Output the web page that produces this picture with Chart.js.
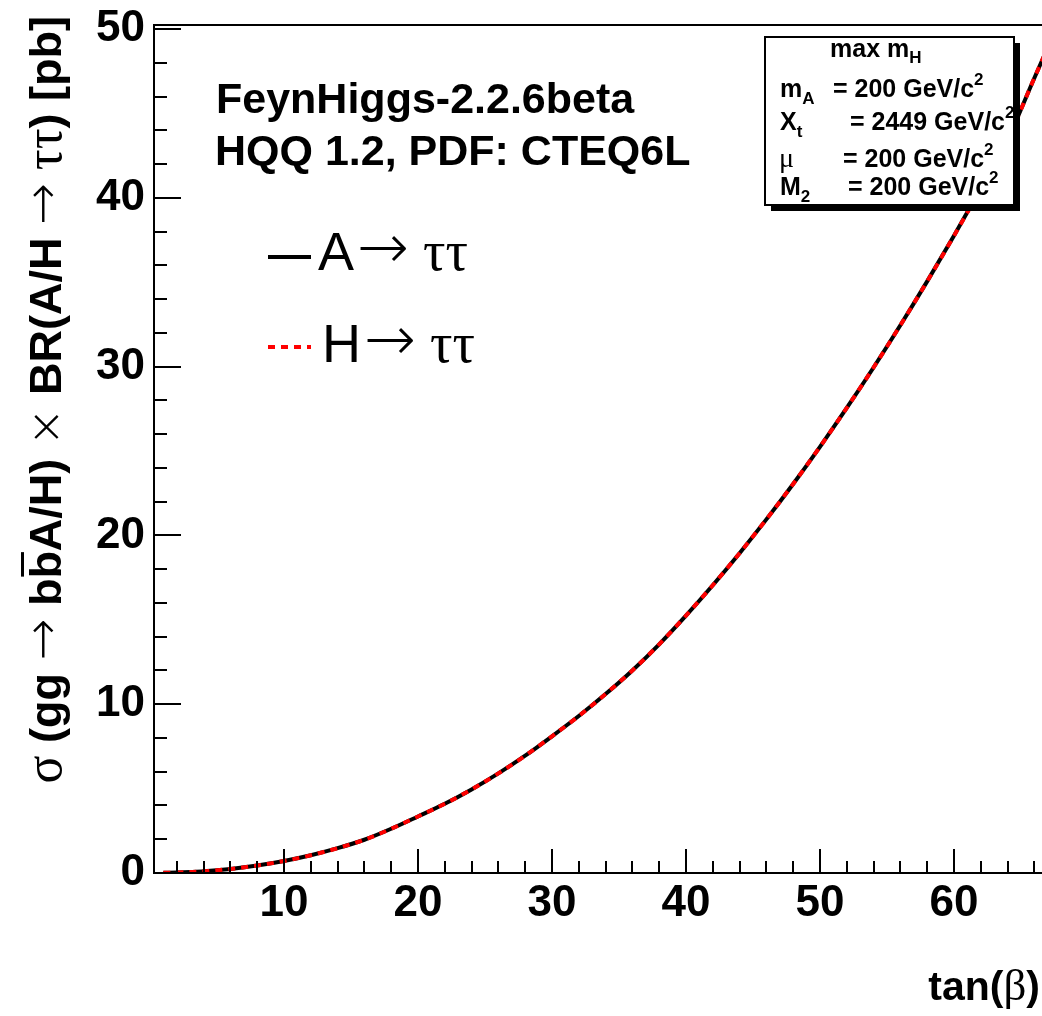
<!DOCTYPE html>
<html>
<head>
<meta charset="utf-8">
<script src="https://cdn.jsdelivr.net/npm/chart.js@4.4.1/dist/chart.umd.min.js"></script>
<style>
  html, body { margin: 0; padding: 0; background: #fff; overflow: hidden; }
  canvas { display: block; }
</style>
</head>
<body>
<canvas id="xsecChart" width="1070" height="1016"></canvas>
<script>
// tan(beta) sampling points and cross sections [pb]
const tanBeta = [1, 2, 3, 4, 6, 8, 10, 12, 14, 16, 18, 20, 22, 24, 26, 28, 30, 32, 34, 36,
                 38, 40, 42, 44, 46, 48, 50, 52, 54, 56, 58, 60, 62, 64, 66, 68];
const sigmaA = [0.01, 0.03, 0.06, 0.10, 0.24, 0.44, 0.71, 1.05, 1.47, 1.97, 2.62, 3.35, 4.10, 4.95,
                5.90, 6.95, 8.10, 9.30, 10.60, 12.00, 13.55, 15.25, 17.05, 18.95, 20.95, 23.05,
                25.25, 27.55, 29.95, 32.45, 35.05, 37.75, 40.55, 43.45, 47.10, 50.70];
const sigmaH = [0.01, 0.03, 0.06, 0.10, 0.24, 0.44, 0.71, 1.05, 1.47, 1.97, 2.62, 3.35, 4.10, 4.95,
                5.90, 6.95, 8.10, 9.30, 10.60, 12.00, 13.55, 15.25, 17.05, 18.95, 20.95, 23.05,
                25.25, 27.55, 29.95, 32.45, 35.05, 37.75, 40.55, 43.45, 47.10, 50.70];

// axis labels
const xTickValues = [10, 20, 30, 40, 50, 60];
const yTickValues = [0, 10, 20, 30, 40, 50];

const SANS = '"Liberation Sans", Arial, Helvetica, sans-serif';
const SERIF = '"Liberation Serif", "Times New Roman", serif';
const ARROW = '"DejaVu Sans", sans-serif';

// draw a run of text pieces with different fonts, returns total width
function drawRich(ctx, parts, x, y, align) {
    let total = 0;
    parts.forEach(p => {
        ctx.font = p.font;
        p.w = ctx.measureText(p.t).width + (p.dx || 0);
        total += p.w;
    });
    let cx = align === 'right' ? x - total : (align === 'center' ? x - total / 2 : x);
    parts.forEach(p => {
        ctx.font = p.font;
        ctx.fillText(p.t, cx + (p.dx || 0), y + (p.dy || 0));
        if (p.over) {
            // overline (b-bar)
            ctx.fillRect(cx + 2, y - p.over, p.w - 3, 3);
        }
        cx += p.w;
    });
    return total;
}

// frame and ROOT style inner ticks
const frameTicks = {
    id: 'frameTicks',
    afterDatasetsDraw(chart) {
        const { ctx, chartArea: a, scales: { x, y } } = chart;
        ctx.save();
        ctx.strokeStyle = '#000';
        ctx.lineWidth = 2;
        ctx.strokeRect(a.left, a.top, a.right - a.left, a.bottom - a.top);
        ctx.beginPath();
        for (let v = 2; v < x.max; v += 2) {
            const px = Math.round(x.getPixelForValue(v));
            const len = v % 10 === 0 ? 24 : 12;
            ctx.moveTo(px, a.bottom);
            ctx.lineTo(px, a.bottom - len);
        }
        for (let v = 0; v <= y.max; v += 2) {
            const py = Math.round(y.getPixelForValue(v));
            const len = v % 10 === 0 ? 27 : 13;
            ctx.moveTo(a.left, py);
            ctx.lineTo(a.left + len, py);
        }
        ctx.stroke();
        ctx.restore();
    }
};

// text annotations, legend, parameter box and axis titles
const annotations = {
    id: 'annotations',
    afterDraw(chart) {
        const ctx = chart.ctx;
        ctx.save();
        ctx.fillStyle = '#000';
        ctx.textBaseline = 'alphabetic';

        // program info
        ctx.font = 'bold 43px ' + SANS;
        ctx.fillText('FeynHiggs-2.2.6beta', 216, 113);
        ctx.fillText('HQQ 1.2, PDF: CTEQ6L', 215, 165);

        // legend
        const ds = chart.data.datasets;
        const legendRows = [
            { d: ds[0], y: 257, name: 'A', tx: 318, ty: 270 },
            { d: ds[1], y: 347, name: 'H', tx: 322, ty: 362 }
        ];
        legendRows.forEach(r => {
            ctx.save();
            ctx.strokeStyle = r.d.borderColor;
            ctx.lineWidth = r.d.borderWidth;
            ctx.setLineDash(r.d.borderDash || []);
            ctx.beginPath();
            ctx.moveTo(268, r.y);
            ctx.lineTo(311, r.y);
            ctx.stroke();
            ctx.restore();
            drawRich(ctx, [
                { t: r.name, font: '54px ' + SANS },
                { t: '\u2192', font: '200 62px ' + ARROW, dy: -2, dx: 3 },
                { t: ' \u03c4\u03c4', font: '56px ' + SERIF }
            ], r.tx, r.ty, 'left');
        });

        // parameter box with shadow
        ctx.fillStyle = '#000';
        ctx.fillRect(771, 43, 249, 168);
        ctx.fillStyle = '#fff';
        ctx.fillRect(765, 37, 249, 168);
        ctx.strokeStyle = '#000';
        ctx.lineWidth = 2;
        ctx.strokeRect(765, 37, 249, 168);
        ctx.fillStyle = '#000';
        const B = 'bold 25px ' + SANS;
        const Bs = 'bold 17px ' + SANS;
        drawRich(ctx, [{ t: 'max m', font: B }, { t: 'H', font: Bs, dy: 6 }], 830, 57, 'left');
        drawRich(ctx, [{ t: 'm', font: B }, { t: 'A', font: Bs, dy: 7 }], 780, 97, 'left');
        drawRich(ctx, [{ t: '= 200 GeV/c', font: B }, { t: '2', font: Bs, dy: -12 }], 833, 97, 'left');
        drawRich(ctx, [{ t: 'X', font: B }, { t: 't', font: Bs, dy: 7 }], 780, 130, 'left');
        drawRich(ctx, [{ t: '= 2449 GeV/c', font: B }, { t: '2', font: Bs, dy: -12 }], 850, 130, 'left');
        drawRich(ctx, [{ t: '\u03bc', font: '28px ' + SERIF }], 779, 167, 'left');
        drawRich(ctx, [{ t: '= 200 GeV/c', font: B }, { t: '2', font: Bs, dy: -12 }], 843, 167, 'left');
        drawRich(ctx, [{ t: 'M', font: B }, { t: '2', font: Bs, dy: 7 }], 780, 195, 'left');
        drawRich(ctx, [{ t: '= 200 GeV/c', font: B }, { t: '2', font: Bs, dy: -12 }], 848, 195, 'left');

        // x axis title
        drawRich(ctx, [
            { t: 'tan(', font: 'bold 41px ' + SANS },
            { t: '\u03b2', font: '45px ' + SERIF },
            { t: ')', font: 'bold 41px ' + SANS }
        ], 1040, 1000, 'right');

        // y axis title, rotated
        ctx.translate(61, 16);
        ctx.rotate(-Math.PI / 2);
        const yb = 'bold 45px ' + SANS;
        const ys = '52px ' + SERIF;
        const ya = '200 50px ' + ARROW;
        drawRich(ctx, [
            { t: '\u03c3', font: ys },
            { t: ' (gg ', font: yb },
            { t: '\u2192', font: ya, dy: -2 },
            { t: ' b', font: yb },
            { t: 'b', font: yb, over: 40 },
            { t: 'A/H) ', font: yb },
            { t: '\u00d7', font: '200 46px ' + ARROW },
            { t: ' BR(A/H ', font: yb },
            { t: '\u2192', font: ya, dy: -2 },
            { t: ' \u03c4\u03c4', font: ys },
            { t: ') [pb]', font: yb }
        ], 0, 0, 'right');
        ctx.restore();
    }
};

const ctx = document.getElementById('xsecChart').getContext('2d');
const xsecChart = new Chart(ctx, {
    type: 'line',
    data: {
        datasets: [
            {
                label: 'A\u2192\u03c4\u03c4',
                data: tanBeta.map((t, i) => ({ x: t, y: sigmaA[i] })),
                borderColor: '#000000',
                borderWidth: 4,
                pointRadius: 0,
                cubicInterpolationMode: 'monotone',
                fill: false,
                order: 2
            },
            {
                label: 'H\u2192\u03c4\u03c4',
                data: tanBeta.map((t, i) => ({ x: t, y: sigmaH[i] })),
                borderColor: '#ff0000',
                borderWidth: 4,
                borderDash: [7, 6],
                pointRadius: 0,
                cubicInterpolationMode: 'monotone',
                fill: false,
                order: 1
            }
        ]
    },
    options: {
        responsive: false,
        animation: false,
        layout: { padding: { top: 25, left: 0, right: 0, bottom: 0 } },
        plugins: {
            legend: { display: false },
            tooltip: { enabled: false }
        },
        scales: {
            x: {
                type: 'linear',
                min: 0.3,
                max: 68.66,
                afterBuildTicks: scale => { scale.ticks = xTickValues.map(v => ({ value: v })); },
                afterFit: scale => {
                    scale.height = 143;
                    scale.paddingLeft = 0;
                    scale.paddingRight = 0;
                },
                grid: { display: false, drawTicks: false },
                border: { display: false },
                ticks: {
                    color: '#000',
                    font: { family: SANS, size: 44, weight: 'bold' },
                    padding: 4,
                    maxRotation: 0,
                    autoSkip: false
                }
            },
            y: {
                type: 'linear',
                min: 0,
                max: 50.24,
                afterBuildTicks: scale => { scale.ticks = yTickValues.map(v => ({ value: v })); },
                afterFit: scale => {
                    scale.width = 154;
                    scale.paddingTop = 0;
                    scale.paddingBottom = 0;
                },
                grid: { display: false, drawTicks: false },
                border: { display: false },
                ticks: {
                    color: '#000',
                    font: { family: SANS, size: 44, weight: 'bold' },
                    padding: 9,
                    autoSkip: false
                }
            }
        }
    },
    plugins: [frameTicks, annotations]
});
</script>
</body>
</html>
